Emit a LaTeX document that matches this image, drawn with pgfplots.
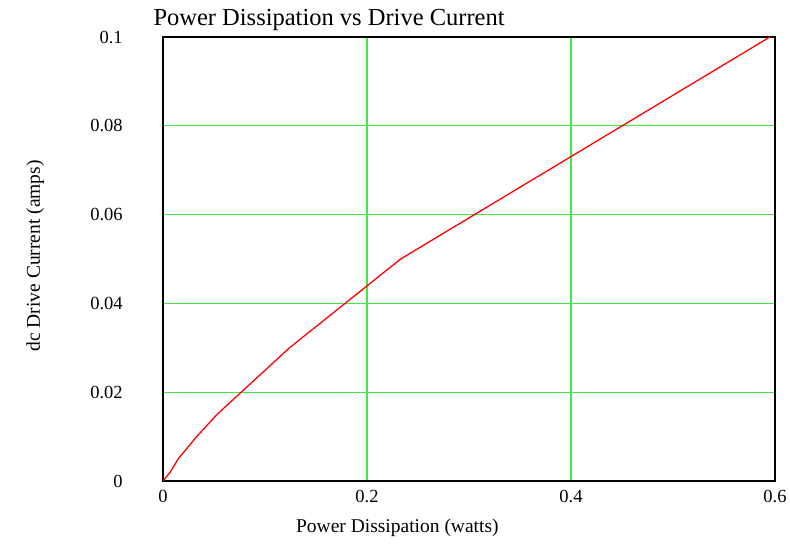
\documentclass[border=0pt]{standalone}
\usepackage{pgfplots}
\pgfplotsset{compat=1.18}
\usepackage{fontspec}
\setmainfont{Liberation Serif}
\definecolor{gridgreen}{RGB}{70,230,70}
\begin{document}
\begin{tikzpicture}
\begin{axis}[
  scale only axis, width=612pt, height=444pt,
  xmin=0, xmax=0.6, ymin=0, ymax=0.1,
  xtick={0,0.2,0.4,0.6}, ytick={0,0.02,0.04,0.06,0.08,0.1},
  xticklabels={0,0.2,0.4,0.6},
  yticklabels={0,0.02,0.04,0.06,0.08,0.1},
  major tick length=0pt,
  grid=major, major grid style={gridgreen, line width=1.1pt},
  axis line style={black, line width=1.4pt},
  tick label style={font=\fontsize{18.5}{20}\selectfont},
  xticklabel style={yshift=-6pt},
  yticklabel style={xshift=-36.8pt},
  xlabel={Power Dissipation (watts)},
  ylabel={dc Drive Current (amps)},
  label style={font=\fontsize{19.5}{22}\selectfont},
  xlabel style={at={(rel axis cs:0.383,-0.106)}, anchor=center},
  ylabel style={at={(rel axis cs:-0.209,0.507)}, anchor=center},
  title={Power Dissipation vs Drive Current},
  title style={font=\fontsize{24.5}{27}\selectfont, at={(rel axis cs:0,1)}, anchor=base west, xshift=-13pt, yshift=5pt},
]
\addplot[red, line width=1.3pt] coordinates {
  (0,0) (0.007,0.002) (0.015,0.005) (0.033,0.010) (0.053,0.015) (0.124,0.030) (0.233,0.050) (0.595,0.100)
};
\end{axis}
\path[use as bounding box] (-163pt,-63pt) rectangle (627pt,481pt);
\end{tikzpicture}
\end{document}
